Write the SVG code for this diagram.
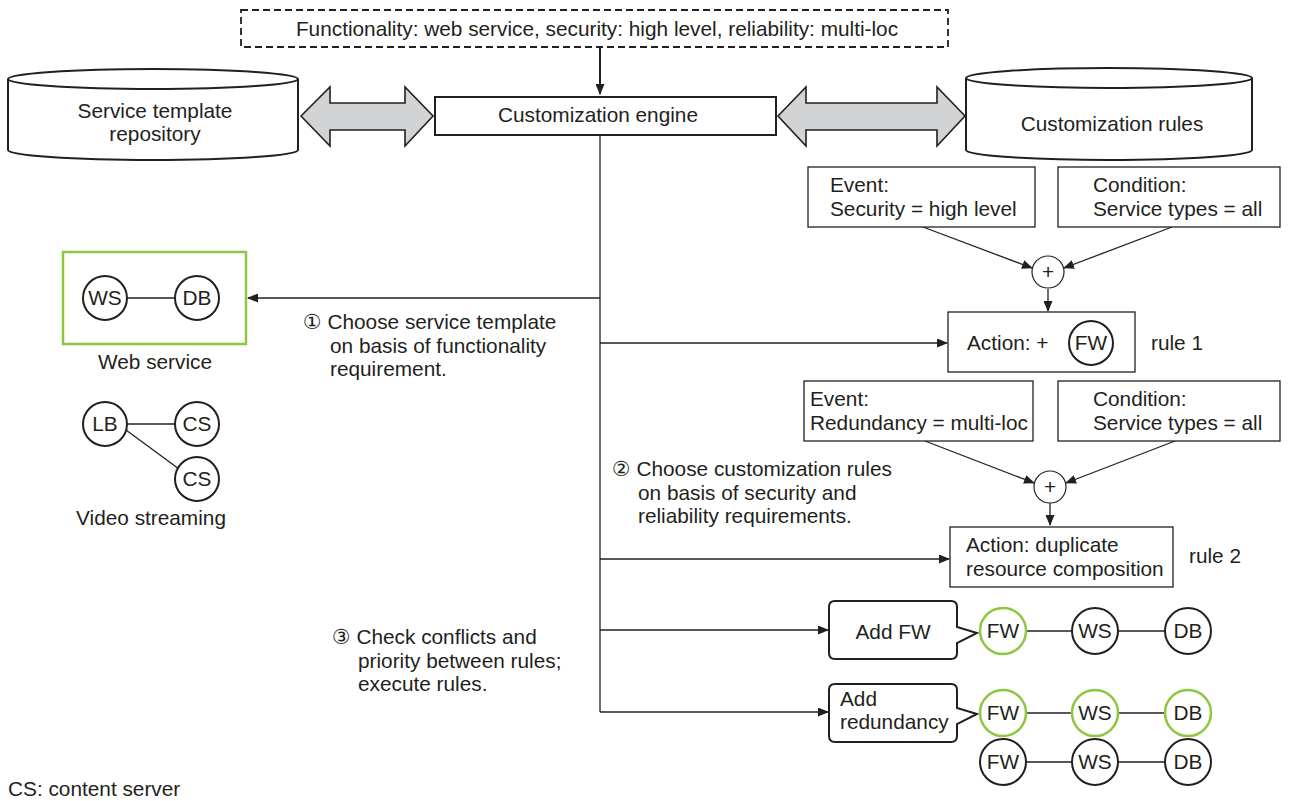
<svg xmlns="http://www.w3.org/2000/svg" width="1290" height="801" viewBox="0 0 1290 801">
<defs>
<marker id="ah" markerUnits="userSpaceOnUse" markerWidth="11" markerHeight="9" refX="10" refY="4.5" orient="auto">
<path d="M0,0 L11,4.5 L0,9 Z" fill="#231f20"/>
</marker>
</defs>
<style>
text{font-family:"Liberation Sans",Arial,"DejaVu Sans",sans-serif;font-size:20.8px;fill:#231f20}
.c{text-anchor:middle}
.box{fill:#fff;stroke:#231f20;stroke-width:1.3}
.bold{fill:#fff;stroke:#231f20;stroke-width:2}
.cyl{fill:#fff;stroke:#231f20;stroke-width:2}
.darr{fill:#d1d3d4;stroke:#231f20;stroke-width:1.6;stroke-linejoin:miter}
.ln{fill:none;stroke:#231f20;stroke-width:1.3}
.arr{fill:none;stroke:#231f20;stroke-width:1.3;marker-end:url(#ah)}
.nd{fill:#fff;stroke:#231f20;stroke-width:2}
.gn{fill:#fff;stroke:#8dc63f;stroke-width:2.5}
.plus{fill:#fff;stroke:#231f20;stroke-width:1.2}
</style>
<rect width="1290" height="801" fill="#fff"/>

<g id="connectors">
<line class="arr" x1="600" y1="47" x2="600" y2="94" style="stroke-width:2"/>
<line class="ln" x1="600" y1="134" x2="600" y2="712"/>
<line class="arr" x1="600" y1="298" x2="248" y2="298"/>
<line class="arr" x1="600" y1="343" x2="947" y2="343"/>
<line class="arr" x1="600" y1="559" x2="949" y2="559"/>
<line class="arr" x1="600" y1="630" x2="828" y2="630"/>
<line class="arr" x1="600" y1="712" x2="828" y2="712"/>
<line class="arr" x1="923" y1="227" x2="1032" y2="268"/>
<line class="arr" x1="1172" y1="227" x2="1064" y2="268"/>
<line class="arr" x1="1048" y1="289" x2="1048" y2="311"/>
<line class="arr" x1="925" y1="441" x2="1034" y2="483"/>
<line class="arr" x1="1175" y1="441" x2="1066" y2="483"/>
<line class="arr" x1="1050" y1="503" x2="1050" y2="525"/>
</g>

<g id="requirements">
<rect x="241" y="10" width="707" height="37" fill="#fff" stroke="#231f20" stroke-width="1.8" stroke-dasharray="7,4"/>
<text class="c" x="597" y="36">Functionality: web service, security: high level, reliability: multi-loc</text>
</g>

<g id="engine">
<rect class="bold" x="435" y="97" width="341" height="38"/>
<text class="c" x="598" y="122">Customization engine</text>
</g>

<g id="repo">
<path class="cyl" d="M8,79 V150 A145,10 0 0 0 298,150 V79"/>
<ellipse class="cyl" cx="153" cy="79" rx="145" ry="10"/>
<text class="c" x="155" y="118">Service template</text>
<text class="c" x="155" y="141">repository</text>
</g>

<g id="arrow-left">
<polygon class="darr" points="301,116 330,87 330,103 405,103 405,87 433,116 405,146 405,130 330,130 330,146"/>
</g>
<g id="arrow-right">
<polygon class="darr" points="778,116 806,87 806,103 937,103 937,87 965,116 937,146 937,130 806,130 806,146"/>
</g>

<g id="rules-db">
<path class="cyl" d="M966,78 V150 A143,10 0 0 0 1252,150 V78"/>
<ellipse class="cyl" cx="1109" cy="78" rx="143" ry="10"/>
<text class="c" x="1112" y="131">Customization rules</text>
</g>

<g id="web-service">
<rect x="63" y="252" width="183" height="92" fill="#fff" stroke="#8dc63f" stroke-width="2.5"/>
<line class="ln" x1="127" y1="298" x2="175" y2="298"/>
<circle class="nd" cx="105" cy="298" r="22"/>
<text class="c" x="105" y="305">WS</text>
<circle class="nd" cx="197" cy="298" r="22"/>
<text class="c" x="197" y="305">DB</text>
<text class="c" x="155" y="369">Web service</text>
</g>

<g id="video-streaming">
<line class="ln" x1="127" y1="424" x2="175" y2="424"/>
<line class="ln" x1="126" y1="430" x2="179" y2="469"/>
<circle class="nd" cx="105" cy="424" r="22"/>
<text class="c" x="105" y="431">LB</text>
<circle class="nd" cx="197" cy="424" r="22"/>
<text class="c" x="197" y="431">CS</text>
<circle class="nd" cx="197" cy="479" r="22"/>
<text class="c" x="197" y="486">CS</text>
<text class="c" x="151" y="525">Video streaming</text>
</g>

<g id="step1">
<text x="303" y="329">① Choose service template</text>
<text x="330" y="353">on basis of functionality</text>
<text x="330" y="376">requirement.</text>
</g>

<g id="event1">
<rect class="box" x="808" y="167" width="227" height="60"/>
<text x="830" y="192">Event:</text>
<text x="830" y="216">Security = high level</text>
</g>
<g id="cond1">
<rect class="box" x="1058" y="167" width="222" height="60"/>
<text x="1093" y="192">Condition:</text>
<text x="1093" y="216">Service types = all</text>
</g>
<g id="plus1">
<circle class="plus" cx="1048" cy="272" r="16"/>
<text class="c" x="1048" y="279">+</text>
</g>
<g id="action1">
<rect class="box" x="948" y="312" width="187" height="60"/>
<text x="967" y="350">Action: +</text>
<circle class="nd" cx="1091" cy="343" r="22"/>
<text class="c" x="1091" y="350">FW</text>
<text x="1151" y="350">rule 1</text>
</g>

<g id="event2">
<rect class="box" x="804" y="381" width="229" height="60"/>
<text x="810" y="406">Event:</text>
<text x="810" y="430">Redundancy = multi-loc</text>
</g>
<g id="cond2">
<rect class="box" x="1058" y="381" width="222" height="60"/>
<text x="1093" y="406">Condition:</text>
<text x="1093" y="430">Service types = all</text>
</g>
<g id="plus2">
<circle class="plus" cx="1050" cy="487" r="16"/>
<text class="c" x="1050" y="494">+</text>
</g>
<g id="action2">
<rect class="box" x="950" y="527" width="223" height="60"/>
<text x="966" y="552">Action: duplicate</text>
<text x="966" y="576">resource composition</text>
<text x="1189" y="563">rule 2</text>
</g>

<g id="step2">
<text x="612" y="476">② Choose customization rules</text>
<text x="638" y="500">on basis of security and</text>
<text x="638" y="523">reliability requirements.</text>
</g>

<g id="step3">
<text x="332" y="644">③ Check conflicts and</text>
<text x="358" y="668">priority between rules;</text>
<text x="358" y="691">execute rules.</text>
</g>

<g id="callout-addfw">
<path class="bold" d="M835,601 H951 Q957,601 957,607 V627 L977,633 L957,643 V653 Q957,659 951,659 H835 Q829,659 829,653 V607 Q829,601 835,601 Z"/>
<text class="c" x="893" y="639">Add FW</text>
</g>
<g id="row1">
<line class="ln" x1="1025" y1="631" x2="1072" y2="631"/>
<line class="ln" x1="1118" y1="631" x2="1165" y2="631"/>
<circle class="gn" cx="1003" cy="631" r="23"/>
<text class="c" x="1003" y="638">FW</text>
<circle class="nd" cx="1095" cy="631" r="23"/>
<text class="c" x="1095" y="638">WS</text>
<circle class="nd" cx="1188" cy="631" r="23"/>
<text class="c" x="1188" y="638">DB</text>
</g>

<g id="callout-redundancy">
<path class="bold" d="M835,684 H951 Q957,684 957,690 V708 L977,714 L957,724 V736 Q957,742 951,742 H835 Q829,742 829,736 V690 Q829,684 835,684 Z"/>
<text x="840" y="706">Add</text>
<text x="840" y="729">redundancy</text>
</g>
<g id="row2">
<line class="ln" x1="1025" y1="713" x2="1072" y2="713"/>
<line class="ln" x1="1118" y1="713" x2="1165" y2="713"/>
<circle class="gn" cx="1003" cy="713" r="23"/>
<text class="c" x="1003" y="720">FW</text>
<circle class="gn" cx="1095" cy="713" r="23"/>
<text class="c" x="1095" y="720">WS</text>
<circle class="gn" cx="1188" cy="713" r="23"/>
<text class="c" x="1188" y="720">DB</text>
</g>
<g id="row3">
<line class="ln" x1="1025" y1="762" x2="1072" y2="762"/>
<line class="ln" x1="1118" y1="762" x2="1165" y2="762"/>
<circle class="nd" cx="1003" cy="762" r="23"/>
<text class="c" x="1003" y="769">FW</text>
<circle class="nd" cx="1095" cy="762" r="23"/>
<text class="c" x="1095" y="769">WS</text>
<circle class="nd" cx="1188" cy="762" r="23"/>
<text class="c" x="1188" y="769">DB</text>
</g>

<g id="legend">
<text x="8" y="796">CS: content server</text>
</g>
</svg>
